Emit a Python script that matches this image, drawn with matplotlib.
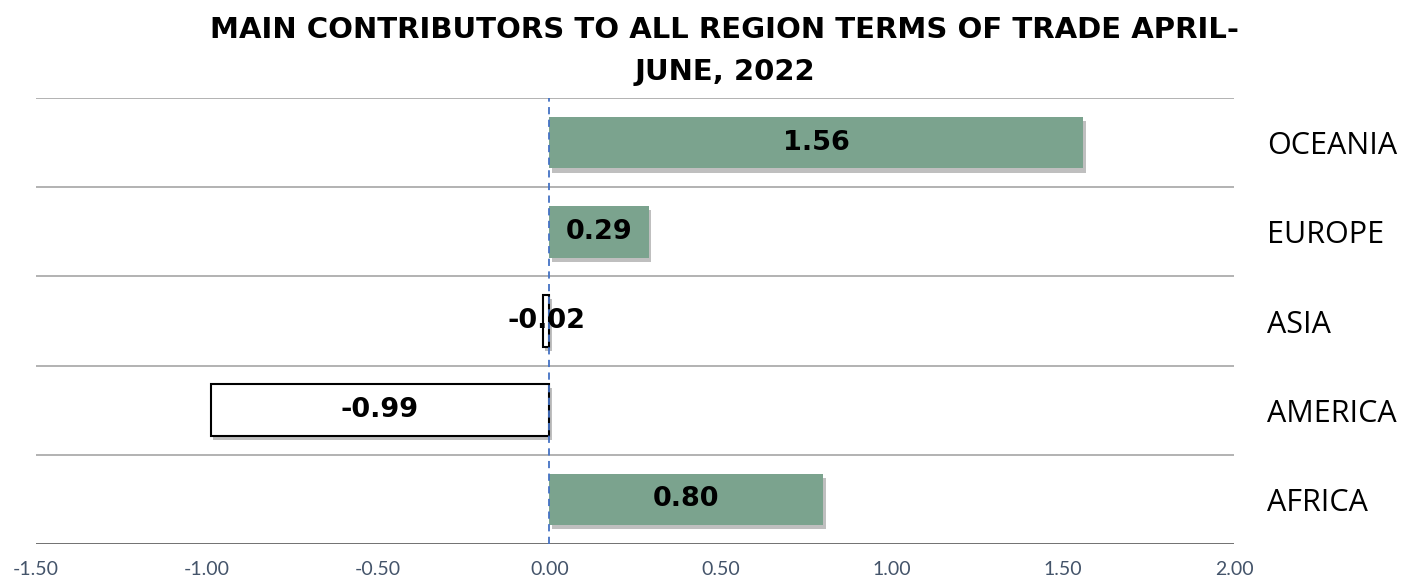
import matplotlib
matplotlib.use("Agg")
import matplotlib.pyplot as plt
import matplotlib.patheffects as pe

categories = ["AFRICA", "AMERICA", "ASIA", "EUROPE", "OCEANIA"]
values = [0.80, -0.99, -0.02, 0.29, 1.56]
xticks = [-1.5, -1.0, -0.5, 0.0, 0.5, 1.0, 1.5, 2.0]
title = "MAIN CONTRIBUTORS TO ALL REGION TERMS OF TRADE APRIL-\nJUNE, 2022"

plt.rcParams['font.family'] = ['Open Sans', 'DejaVu Sans']
BOLD = ['DejaVu Sans']

fig = plt.figure(figsize=(14.15, 5.88), dpi=100)
ax = fig.add_axes([36/1415, 1 - 544/588, (1234 - 36)/1415, (544 - 98)/588])

green = "#7BA38E"
shadow = [pe.SimplePatchShadow(offset=(2, -3), shadow_rgbFace="#000000", alpha=0.25), pe.Normal()]
ypos = list(range(len(categories)))
for y, v in zip(ypos, values):
    if v >= 0:
        b = ax.barh(y, v, height=0.58, color=green, edgecolor="none", zorder=3)
    else:
        b = ax.barh(y, v, height=0.58, color="white", edgecolor="black", linewidth=1.5, zorder=3)
    for p in b.patches:
        p.set_path_effects(shadow)
    ax.text(v / 2, y, f"{v:.2f}", ha="center", va="center", fontsize=19.5,
            fontweight="bold", color="black", zorder=5, family=BOLD)

ax.set_xlim(-1.5, 2.0)
ax.set_ylim(-0.5, len(categories) - 0.5)

for g in [i - 0.5 for i in range(len(categories) + 1)]:
    col = "#595959" if g == -0.5 else "#A6A6A6"
    ax.axhline(g, color=col, linewidth=1.2, zorder=1)

ax.axvline(0, color="#4472C4", linestyle=(0, (4, 3)), linewidth=1.3, zorder=4)

for s in ax.spines.values():
    s.set_visible(False)

ax.set_xticks(xticks)
ax.set_xticklabels([f"{t:.2f}" for t in xticks], color="#44546A", fontsize=14,
                   family=['Lato', 'DejaVu Sans'])
ax.tick_params(axis="x", length=0, pad=12)

ax.set_yticks(ypos)
ax.set_yticklabels(categories, fontsize=22)
ax.yaxis.tick_right()
ax.tick_params(axis="y", length=0, pad=24)

fig.text(725/1415, 1 - 51/588, title, ha="center", va="center", fontsize=21,
         fontweight="bold", linespacing=1.65, family=BOLD)

fig.savefig("out.png", dpi=100)
